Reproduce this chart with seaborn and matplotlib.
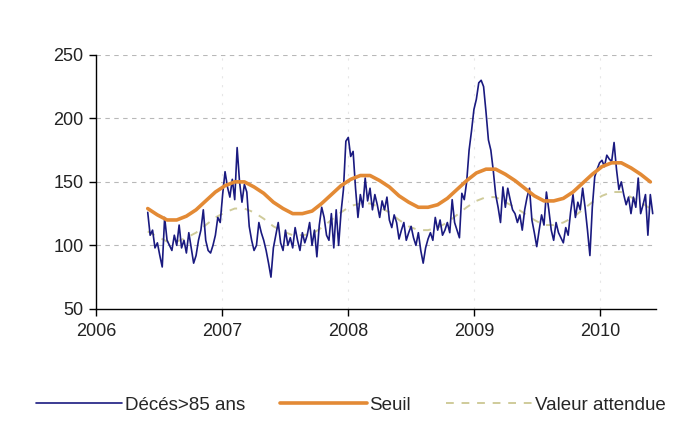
import numpy as np
import pandas as pd
import seaborn as sns
from matplotlib import pyplot as plt

# weekly deaths (>85 years), first week = start of June 2006
deces_2006 = [126, 108, 112, 98, 102, 92, 83, 122, 104, 100, 96, 108, 100, 116, 98, 104,
              94, 110, 98, 86, 92, 104, 112, 128, 104, 96, 94, 100, 108, 122, 118]
deces_2007 = [140, 158, 146, 138, 152, 136, 177, 150, 134, 148, 142, 115, 104, 96, 100, 118,
              110, 104, 96, 86, 75, 98, 108, 118, 102, 96, 112, 100, 106, 98, 114, 104,
              96, 110, 102, 108, 118, 100, 112, 91, 116, 130, 122, 108, 104, 125, 98, 128,
              100, 126, 144, 182]
deces_2008 = [185, 170, 174, 145, 122, 140, 130, 153, 135, 145, 128, 140, 132, 122, 135, 128,
              138, 120, 114, 124, 118, 105, 112, 118, 104, 110, 115, 106, 100, 110, 96, 86,
              98, 105, 110, 104, 122, 112, 120, 108, 112, 118, 110, 136, 118, 112, 106, 141,
              136, 150, 175, 190, 207]
deces_2009 = [215, 228, 230, 225, 205, 183, 175, 159, 140, 130, 118, 146, 130, 145, 136, 128,
              125, 118, 124, 112, 128, 138, 145, 120, 110, 99, 112, 124, 116, 142, 128, 112,
              104, 118, 110, 106, 102, 114, 108, 126, 140, 122, 134, 128, 145, 130, 112, 92,
              130, 154, 160, 165]
deces_2010 = [167, 162, 171, 168, 166, 181, 160, 144, 150, 140, 132, 138, 125, 138, 130, 153,
              125, 132, 140, 108, 140, 125]
deces = deces_2006 + deces_2007 + deces_2008 + deces_2009 + deces_2010

# threshold and expected value, every 4 weeks
seuil = [129, 124, 120, 120, 123, 128, 135, 142, 147, 150, 150, 146, 141, 134, 129, 125,
         125, 127, 133, 140, 147, 152, 155, 155, 151, 146, 139, 134, 130, 130, 132, 137,
         144, 151, 157, 160, 160, 156, 151, 145, 139, 135, 135, 137, 142, 149, 156, 162,
         165, 165, 161, 156, 150]
attendu = [111, 107, 103, 103, 106, 110, 116, 122, 126, 129, 129, 126, 121, 115, 111, 108,
           108, 109, 114, 120, 126, 131, 133, 133, 130, 126, 120, 115, 112, 112, 114, 118,
           124, 130, 135, 138, 138, 134, 130, 125, 120, 116, 116, 118, 122, 128, 134, 139,
           142, 142, 138, 134, 129]

debut = 2006.41
semaine = 7 / 365.25

df_deces = pd.DataFrame({"annee": debut + np.arange(len(deces)) * semaine, "valeur": deces})
df_seuil = pd.DataFrame({"annee": debut + np.arange(len(seuil)) * 4 * semaine,
                         "seuil": seuil, "attendu": attendu})

sns.set_theme(style="white")
plt.rcParams["font.family"] = ["Liberation Sans", "DejaVu Sans"]

fig = plt.figure(figsize=(6.86, 4.32), dpi=100)
ax = fig.add_axes([0.14, 0.285, 0.816, 0.588])

sns.lineplot(data=df_seuil, x="annee", y="attendu", ax=ax, color="#cfcb9a", lw=1.4,
             dashes=(4, 4), label="Valeur attendue", zorder=2)
sns.lineplot(data=df_deces, x="annee", y="valeur", ax=ax, color="#1a1a80", lw=1.2,
             label="Décés>85 ans", zorder=3)
sns.lineplot(data=df_seuil, x="annee", y="seuil", ax=ax, color="#e38a35", lw=2.6,
             label="Seuil", zorder=4)

ax.set_xlim(2006, 2010.44)
ax.set_ylim(50, 250)
ax.set_xticks([2006, 2007, 2008, 2009, 2010])
ax.set_yticks([50, 100, 150, 200, 250])
ax.set_xlabel("")
ax.set_ylabel("")

for v in [100, 150, 200, 250]:
    ax.axhline(v, color="#b8b8b8", lw=0.8, ls=(0, (4, 4)), zorder=0)
for yr in [2007, 2008, 2009, 2010]:
    ax.axvline(yr, color="#e6e6e6", lw=0.8, ls=(0, (2, 6)), zorder=0)

for s in ["top", "right"]:
    ax.spines[s].set_visible(False)
for s in ["left", "bottom"]:
    ax.spines[s].set_color("black")
    ax.spines[s].set_linewidth(1.0)

ax.tick_params(axis="both", direction="out", length=5, width=1, color="black",
               labelsize=13, labelcolor="#222222", left=True, bottom=True)
ax.tick_params(axis="y", pad=4)
ax.tick_params(axis="x", pad=5)

h, l = ax.get_legend_handles_labels()
order = [l.index("Décés>85 ans"), l.index("Seuil"), l.index("Valeur attendue")]
ax.legend([h[i] for i in order], [l[i] for i in order],
          loc="upper center", bbox_to_anchor=(0.455, -0.28), ncol=3, frameon=False,
          fontsize=13.5, handlelength=4.6, handletextpad=0.12, columnspacing=1.9)

fig.savefig("out.png", dpi=100, facecolor="white")
